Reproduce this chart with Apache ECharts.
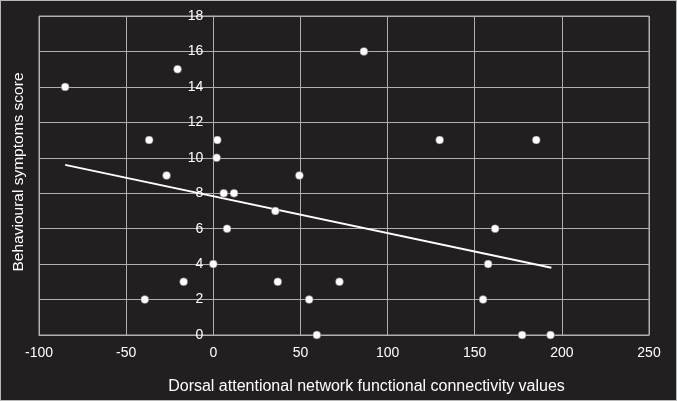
<!DOCTYPE html>
<html>
<head>
<meta charset="utf-8">
<script src="https://cdn.jsdelivr.net/npm/echarts@6/dist/echarts.min.js"></script>
<style>
  html, body { margin: 0; padding: 0; background: #231f20; }
  #chart { width: 677px; height: 401px; box-sizing: border-box; border: 1px solid #b8b8b8; }
</style>
</head>
<body>
<div id="chart"></div>
<script>
// connectivity values (x) and symptom scores (y)
const connectivity = [-85, -20.5, -36.8, -26.8, 2.3, 1.9, 6, 11.9, 49.4, 86.4, 129.9, 185.3,
  35.6, 7.9, 0, -17, 37, 72.4, -39.3, 55, 59.4, 161.7, 157.7, 154.8, 177.2, 193.5];
const symptoms = [14, 15, 11, 9, 11, 10, 8, 8, 9, 16, 11, 11,
  7, 6, 4, 3, 3, 3, 2, 2, 0, 6, 4, 2, 0, 0];
// regression line end points
const fitX = [-85, 194];
const fitY = [9.6, 3.8];

const xTicks = [-100, -50, 0, 50, 100, 150, 200, 250];
const yTicks = [0, 2, 4, 6, 8, 10, 12, 14, 16, 18];

const points = connectivity.map((v, i) => [v, symptoms[i]]);
const fitLine = fitX.map((v, i) => [v, fitY[i]]);

const myChart = echarts.init(document.getElementById('chart'));
const fontFamily = 'Liberation Sans, Arial, sans-serif';
const gridLeft = 38;

myChart.setOption({
  backgroundColor: '#231f20',
  animation: false,
  grid: {
    left: gridLeft,
    right: 27,
    top: 15,
    bottom: 65,
    outerBoundsMode: 'none',
    containLabel: false,
    show: true,
    borderColor: '#b0b0b0',
    borderWidth: 1
  },
  // y axis title at the left edge (the y axis itself sits on x = 0)
  graphic: [
    {
      type: 'text',
      x: 18,
      y: 171,
      rotation: Math.PI / 2,
      style: {
        text: 'Behavioural symptoms score',
        fill: '#ffffff',
        font: '15.5px Liberation Sans, Arial, sans-serif',
        textAlign: 'center',
        textVerticalAlign: 'middle'
      }
    }
  ],
  xAxis: {
    type: 'value',
    min: xTicks[0],
    max: xTicks[xTicks.length - 1],
    interval: 50,
    name: 'Dorsal attentional network functional connectivity values',
    nameLocation: 'middle',
    nameGap: 44,
    nameTextStyle: { color: '#ffffff', fontSize: 16, fontFamily: fontFamily, padding: [0, 0, 0, 45] },
    axisLine: { onZero: false, lineStyle: { color: '#b0b0b0', width: 1 } },
    axisTick: { show: false },
    axisLabel: { color: '#ffffff', fontSize: 14, fontFamily: fontFamily, margin: 11 },
    splitLine: { lineStyle: { color: '#b0b0b0', width: 1 } }
  },
  yAxis: {
    type: 'value',
    min: yTicks[0],
    max: yTicks[yTicks.length - 1],
    interval: 2,
    axisLine: { onZero: true, lineStyle: { color: '#b0b0b0', width: 1 } },
    axisTick: { show: false },
    axisLabel: { color: '#ffffff', fontSize: 14, fontFamily: fontFamily, margin: 10 },
    splitLine: { lineStyle: { color: '#b0b0b0', width: 1 } }
  },
  series: [
    {
      type: 'line',
      data: fitLine,
      symbol: 'none',
      lineStyle: { color: '#ffffff', width: 2 },
      z: 2
    },
    {
      type: 'scatter',
      data: points,
      symbol: 'circle',
      symbolSize: 8,
      itemStyle: { color: '#ffffff', borderColor: '#555555', borderWidth: 0.5, opacity: 1 },
      z: 3
    }
  ]
});

// move the y axis (and its labels) onto x = 0
const zeroPx = myChart.convertToPixel({ xAxisIndex: 0 }, 0);
myChart.setOption({ yAxis: { offset: gridLeft - zeroPx } });

window.onresize = function () {
  myChart.resize();
};
</script>
</body>
</html>
